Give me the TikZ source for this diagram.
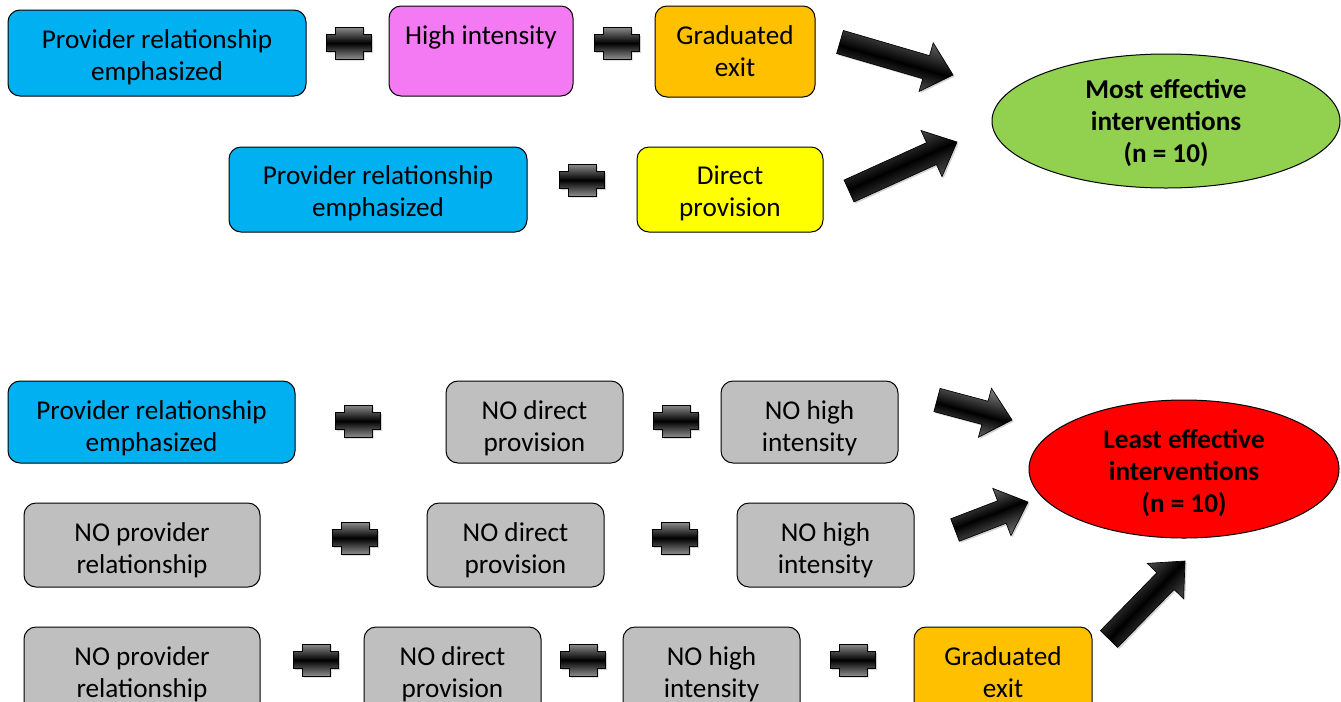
\documentclass[tikz,border=0pt]{standalone}
\usepackage{fontspec}
\setmainfont{Carlito}
\usetikzlibrary{shapes.geometric,shadows,calc}
\definecolor{cblue}{HTML}{00B0F0}
\definecolor{cmag}{HTML}{F37AF3}
\definecolor{corange}{HTML}{FFC000}
\definecolor{cyellow}{HTML}{FFFF00}
\definecolor{cgray}{HTML}{BFBFBF}
\definecolor{cgreen}{HTML}{92D050}
\definecolor{cred}{HTML}{FF0000}
\tikzset{
  box/.style={draw=black, line width=0.75pt, rounded corners=9pt, align=center,
    font=\fontsize{20.4}{24}\selectfont, inner sep=0pt, text height=42pt, text depth=0pt},
  oval/.style={ellipse, draw=black, line width=0.75pt, align=center, inner sep=0pt,
    font=\fontsize{20.4}{24}\selectfont\bfseries, text height=61.5pt, text depth=0pt},
  th/.style={text height=#1},
  shadowed/.style={drop shadow={shadow xshift=1.2pt, shadow yshift=-1.2pt, opacity=0.35}},
  plussign/.pic={\path[shadowed, top color=black!45, bottom color=black!45, middle color=black,
      draw=black, line width=0.5pt]
      (-22.5,-8.5) -- (-14,-8.5) -- (-14,-16) -- (14,-16) -- (14,-8.5) -- (22.5,-8.5)
      -- (22.5,8.5) -- (14,8.5) -- (14,16) -- (-14,16) -- (-14,8.5) -- (-22.5,8.5) -- cycle;},
  blockarrow/.style={shadowed, top color=black!50, bottom color=black!50, middle color=black,
      draw=black, line width=0.5pt}
}
\newcommand\blockarrow[3]{%
  \coordinate (hb) at ($(#2)!21pt!(#1)$);
  \path[blockarrow, shading angle=#3]
    ($(#1)!9pt!90:(#2)$) -- ($(hb)!9pt!-90:(#1)$) -- ($(hb)!19pt!-90:(#1)$) -- (#2)
    -- ($(hb)!19pt!90:(#1)$) -- ($(hb)!9pt!90:(#1)$) -- ($(#1)!9pt!-90:(#2)$) -- cycle;
}
\begin{document}
\begin{tikzpicture}[x=0.75pt,y=-0.75pt]
\useasboundingbox (0,0) rectangle (1341,701);
% row 1
\node[box, th=40.5pt, fill=cblue, minimum width=223.5pt, minimum height=64.5pt] (a1) at (157,53) {Provider relationship\\emphasized};
\node[box, th=37.5pt, fill=cmag, minimum width=138pt, minimum height=67.5pt] (a2) at (481,51) {High intensity\\\phantom{x}};
\node[box, th=37.5pt, fill=corange, minimum width=120pt, minimum height=68.25pt] (a3) at (735,51.5) {Graduated\\exit};
% row 2
\node[box, th=40.5pt, fill=cblue, minimum width=223.5pt, minimum height=63.75pt] (b1) at (378,189.5) {Provider relationship\\emphasized};
\node[box, th=40.5pt, fill=cyellow, minimum width=139.5pt, minimum height=63.75pt] (b2) at (730,189.5) {Direct\\provision};
% green ellipse
\node[oval, fill=cgreen, minimum width=261pt, minimum height=100.5pt] (most) at (1166,121) {Most effective\\interventions\\(n = 10)};
% row 3
\node[box, th=43.5pt, fill=cblue, minimum width=215.25pt, minimum height=61.5pt] (c1) at (151.5,422) {Provider relationship\\emphasized};
\node[box, th=43.5pt, fill=cgray, minimum width=132.75pt, minimum height=61.5pt] (c2) at (534.5,422) {NO direct\\provision};
\node[box, th=43.5pt, fill=cgray, minimum width=132.75pt, minimum height=61.5pt] (c3) at (809.5,422) {NO high\\intensity};
% row 4
\node[box, th=42pt, fill=cgray, minimum width=177pt, minimum height=63pt] (d1) at (142,545) {NO provider\\relationship};
\node[box, th=42pt, fill=cgray, minimum width=132.75pt, minimum height=63pt] (d2) at (515.5,545) {NO direct\\provision};
\node[box, th=42pt, fill=cgray, minimum width=132.75pt, minimum height=63pt] (d3) at (825.5,545) {NO high\\intensity};
% row 5
\node[box, th=37.5pt, fill=cgray, minimum width=177pt, minimum height=67.5pt] (e1) at (142,672) {NO provider\\relationship};
\node[box, th=37.5pt, fill=cgray, minimum width=132.75pt, minimum height=67.5pt] (e2) at (452.5,672) {NO direct\\provision};
\node[box, th=37.5pt, fill=cgray, minimum width=132.75pt, minimum height=67.5pt] (e3) at (711.5,672) {NO high\\intensity};
\node[box, th=37.5pt, fill=corange, minimum width=133.5pt, minimum height=67.5pt] (e4) at (1003,672) {Graduated\\exit};
% red ellipse
\node[oval, th=64.5pt, fill=cred, minimum width=232.5pt, minimum height=103.5pt] (least) at (1184,469) {Least effective\\interventions\\(n = 10)};
% plus signs
\foreach \p in {(349,43),(617,43),(582,180),(358,421),(676,421),(355,538),(675,538),(316,660),(583,660),(853,660)}
  \pic at \p {plussign};
% arrows
\coordinate (t1) at (840,42);   \coordinate (p1) at (953,75);
\coordinate (t2) at (849,191);  \coordinate (p2) at (957,142);
\coordinate (t3) at (937,400);  \coordinate (p3) at (1012,420);
\coordinate (t4) at (955,530);  \coordinate (p4) at (1028,502);
\coordinate (t5) at (1109,639); \coordinate (p5) at (1185,561);
\blockarrow{t1}{p1}{-16}
\blockarrow{t2}{p2}{24}
\blockarrow{t3}{p3}{-15}
\blockarrow{t4}{p4}{21}
\blockarrow{t5}{p5}{46}
\end{tikzpicture}
\end{document}
